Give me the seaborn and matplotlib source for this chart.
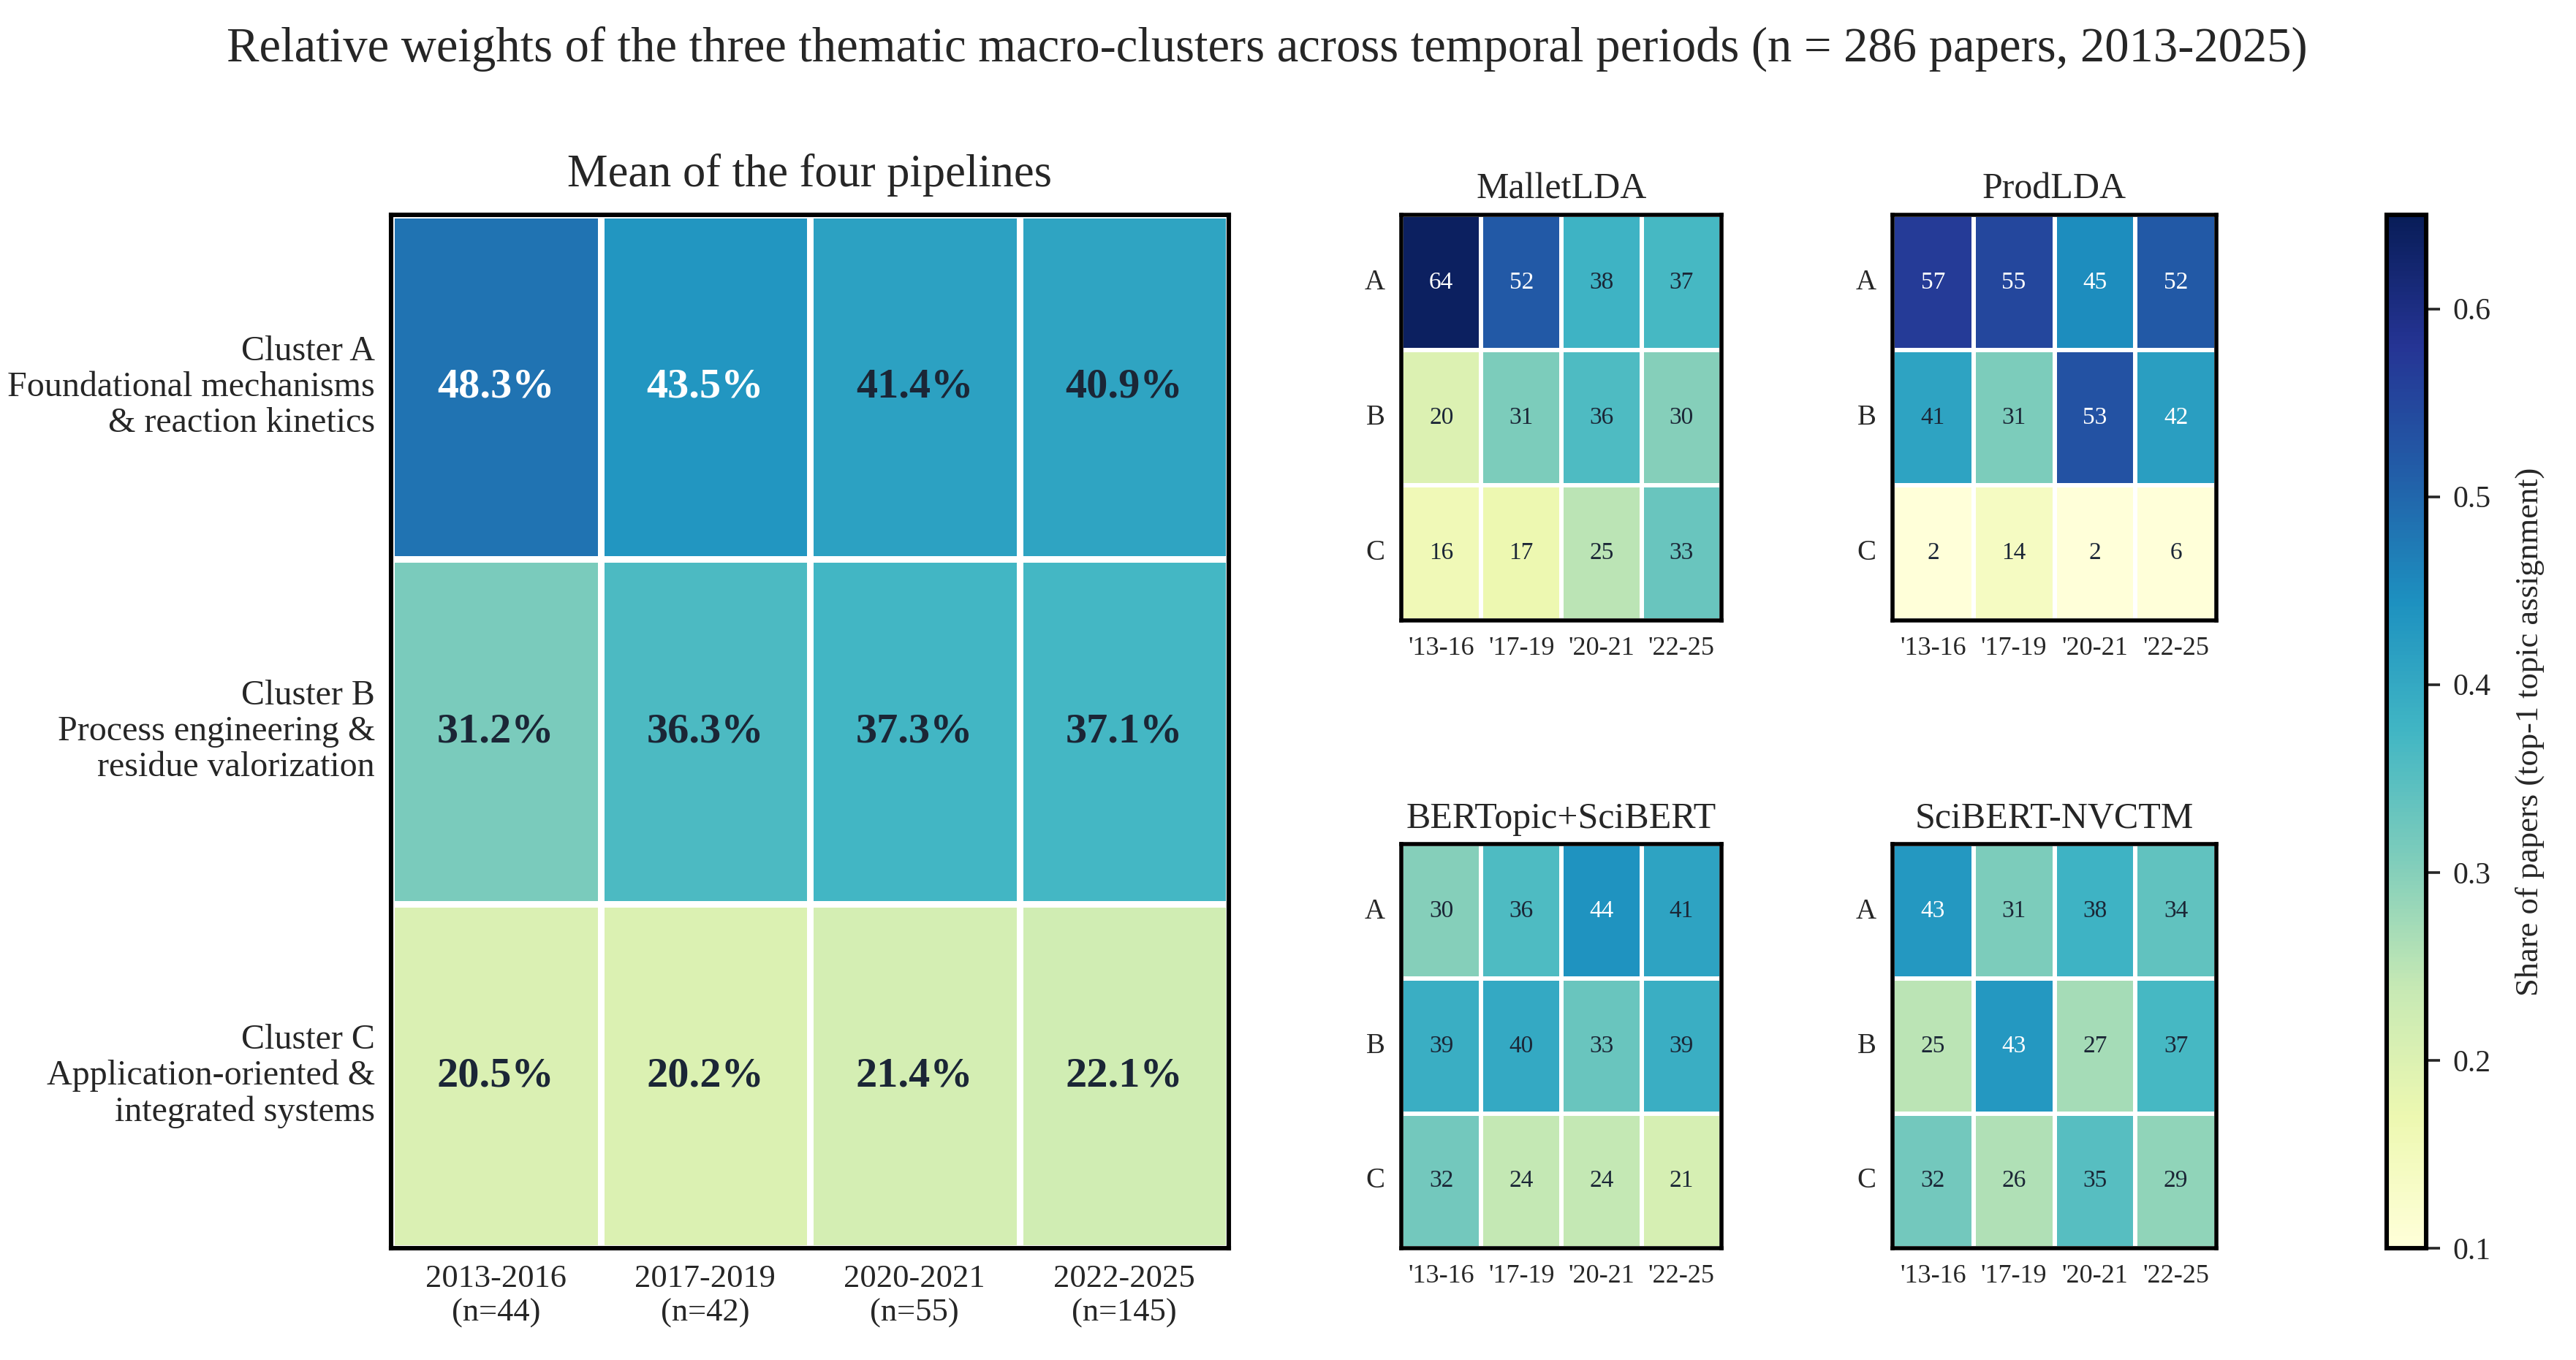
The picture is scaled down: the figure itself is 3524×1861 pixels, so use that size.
import numpy as np
import pandas as pd
import matplotlib
matplotlib.use("Agg")
import matplotlib.pyplot as plt
import seaborn as sns

# ---------------- data ----------------
periods_long = ["2013-2016\n(n=44)", "2017-2019\n(n=42)", "2020-2021\n(n=55)", "2022-2025\n(n=145)"]
periods_short = ["'13-16", "'17-19", "'20-21", "'22-25"]
clusters_long = ["Cluster A\nFoundational mechanisms\n& reaction kinetics",
                 "Cluster B\nProcess engineering &\nresidue valorization",
                 "Cluster C\nApplication-oriented &\nintegrated systems"]
clusters_short = ["A", "B", "C"]

mean_A = [48.3, 43.5, 41.4, 40.9]
mean_B = [31.2, 36.3, 37.3, 37.1]
mean_C = [20.5, 20.2, 21.4, 22.1]

mallet_A = [64, 52, 38, 37]
mallet_B = [20, 31, 36, 30]
mallet_C = [16, 17, 25, 33]

prodlda_A = [57, 55, 45, 52]
prodlda_B = [41, 31, 53, 42]
prodlda_C = [2, 14, 2, 6]

bertopic_A = [30, 36, 44, 41]
bertopic_B = [39, 40, 33, 39]
bertopic_C = [32, 24, 24, 21]

nvctm_A = [43, 31, 38, 34]
nvctm_B = [25, 43, 27, 37]
nvctm_C = [32, 26, 35, 29]

pipeline_names = ["MalletLDA", "ProdLDA", "BERTopic+SciBERT", "SciBERT-NVCTM"]

# ---------------- style ----------------
sns.set_style("white")
plt.rcParams["font.family"] = ["Liberation Serif", "DejaVu Serif", "DejaVu Sans"]
plt.rcParams["mathtext.fontset"] = "stix"

W, H = 3524, 1861
DPI = 200
fig = plt.figure(figsize=(W / DPI, H / DPI), dpi=DPI)

def ax_at(l, t, r, b):
    return fig.add_axes([l / W, 1 - b / H, (r - l) / W, (b - t) / H])

cmap = "YlGnBu"
VMIN, VMAX = 0.1, 0.65
DARK = "#1b2636"
THRESH = 0.42

def frame(ax, lw):
    for s in ax.spines.values():
        s.set_visible(True)
        s.set_linewidth(lw)
        s.set_color("black")

def recolor(ax, vals):
    flat = np.asarray(vals).ravel()
    for txt, v in zip(ax.texts, flat):
        txt.set_color("white" if v >= THRESH else DARK)

# ---------------- main heatmap ----------------
ax_main = ax_at(535, 294, 1681, 1708)
cax = ax_at(3265, 294, 3319, 1708)

mean_df = pd.DataFrame([mean_A, mean_B, mean_C], index=clusters_long, columns=periods_long) / 100.0
mean_lbl = np.array([[f"{v*100:.1f}%" for v in row] for row in mean_df.values])
sns.heatmap(mean_df, ax=ax_main, cmap=cmap, vmin=VMIN, vmax=VMAX, annot=mean_lbl, fmt="",
            annot_kws={"fontsize": 21, "fontweight": "bold"}, linewidths=2.6, linecolor="white",
            cbar=True, cbar_ax=cax,
            cbar_kws={"label": "Share of papers (top-1 topic assignment)"})
recolor(ax_main, mean_df.values)
frame(ax_main, 2.2)
ax_main.set_title("Mean of the four pipelines", fontsize=22.5, pad=14)
ax_main.tick_params(length=0, pad=8)
ax_main.set_yticklabels(clusters_long, rotation=0, fontsize=17.3, ha="right", va="center",
                        linespacing=1.15)
ax_main.set_xticklabels(periods_long, rotation=0, fontsize=16)
ax_main.set_xlabel("")
ax_main.set_ylabel("")

# colorbar styling
cb = ax_main.collections[0].colorbar
cb.outline.set_visible(True)
cb.outline.set_linewidth(2.2)
cb.outline.set_edgecolor("black")
cb.set_ticks([0.1, 0.2, 0.3, 0.4, 0.5, 0.6])
cb.ax.tick_params(labelsize=15, length=7, width=1.3, pad=6)
cb.ax.yaxis.label.set_size(16)
cb.ax.yaxis.labelpad = 12

# ---------------- small heatmaps ----------------
pipes = [
    (pipeline_names[0], [mallet_A, mallet_B, mallet_C], (1917, 294, 2355, 849)),
    (pipeline_names[1], [prodlda_A, prodlda_B, prodlda_C], (2589, 294, 3032, 849)),
    (pipeline_names[2], [bertopic_A, bertopic_B, bertopic_C], (1917, 1155, 2355, 1708)),
    (pipeline_names[3], [nvctm_A, nvctm_B, nvctm_C], (2589, 1155, 3032, 1708)),
]

for name, rows, box in pipes:
    ax = ax_at(*box)
    df = pd.DataFrame(rows, index=clusters_short, columns=periods_short) / 100.0
    lbl = np.array([[f"{int(round(v*100))}" for v in r] for r in df.values])
    sns.heatmap(df, ax=ax, cmap=cmap, vmin=VMIN, vmax=VMAX, annot=lbl, fmt="",
                annot_kws={"fontsize": 12}, linewidths=1.6, linecolor="white", cbar=False)
    recolor(ax, df.values)
    frame(ax, 2.0)
    ax.set_title(name, fontsize=18, pad=8)
    ax.tick_params(length=0, pad=8)
    ax.set_yticklabels(clusters_short, rotation=0, fontsize=14, va="center")
    ax.set_xticklabels(periods_short, rotation=0, fontsize=13)
    ax.set_xlabel("")
    ax.set_ylabel("")

fig.suptitle("Relative weights of the three thematic macro-clusters across temporal periods (n = 286 papers, 2013-2025)",
             fontsize=24, x=0.492, y=0.981, va="top")

fig.savefig("out.png", dpi=DPI)
